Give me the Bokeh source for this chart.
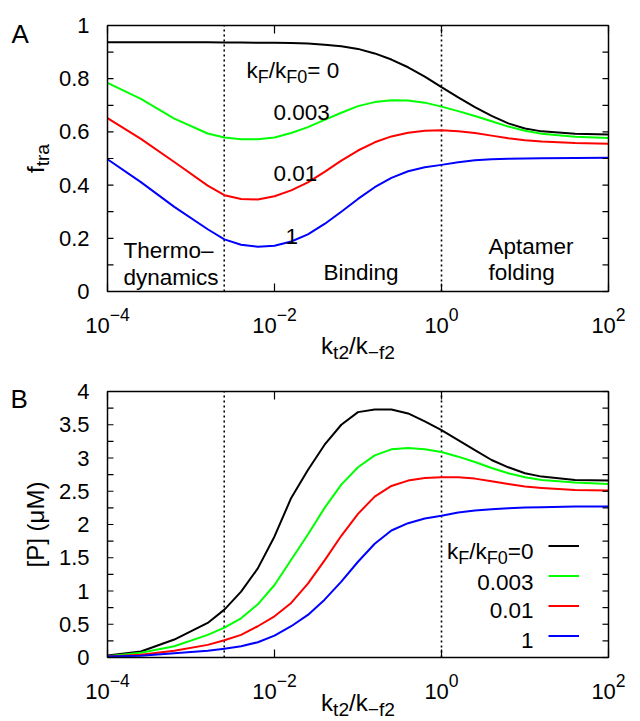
import math
from bokeh.plotting import figure
from bokeh.models import Range1d, Label, Legend, LegendItem
from bokeh.core.properties import value
from bokeh.embed import file_html
from bokeh.resources import INLINE

# ---------------- data ----------------
log_ratio = [-4.0, -3.6, -3.2, -2.8, -2.6, -2.4, -2.2, -2.0, -1.8, -1.6, -1.4, -1.2, -1.0,
             -0.8, -0.6, -0.4, -0.2, 0.0, 0.2, 0.4, 0.6, 0.8, 1.0, 1.2, 1.6, 2.0]
kt2_over_kmf2 = [10 ** v for v in log_ratio]

series_labels = ["0", "0.003", "0.01", "1"]
series_colors = ["#000000", "#00ff00", "#ff0000", "#0000ff"]

f_tra_0 = [0.937, 0.937, 0.937, 0.937, 0.936, 0.936, 0.935, 0.935, 0.934, 0.932, 0.928, 0.922, 0.912,
           0.895, 0.872, 0.843, 0.808, 0.768, 0.730, 0.693, 0.660, 0.632, 0.613, 0.602, 0.593, 0.590]
f_tra_0003 = [0.784, 0.724, 0.650, 0.594, 0.579, 0.572, 0.572, 0.579, 0.596, 0.618, 0.645, 0.672, 0.697,
              0.712, 0.719, 0.718, 0.710, 0.695, 0.678, 0.660, 0.640, 0.620, 0.604, 0.593, 0.582, 0.577]
f_tra_001 = [0.652, 0.574, 0.487, 0.398, 0.362, 0.348, 0.346, 0.358, 0.380, 0.410, 0.450, 0.492, 0.530,
             0.561, 0.583, 0.597, 0.604, 0.606, 0.602, 0.596, 0.586, 0.576, 0.569, 0.564, 0.558, 0.555]
f_tra_1 = [0.497, 0.411, 0.318, 0.234, 0.196, 0.176, 0.168, 0.172, 0.188, 0.215, 0.254, 0.300, 0.348,
           0.392, 0.427, 0.452, 0.467, 0.476, 0.486, 0.493, 0.497, 0.499, 0.500, 0.501, 0.502, 0.503]

P_0 = [0.03, 0.09, 0.27, 0.52, 0.72, 0.99, 1.34, 1.82, 2.40, 2.82, 3.20, 3.50, 3.69,
       3.73, 3.73, 3.67, 3.55, 3.42, 3.27, 3.12, 2.97, 2.86, 2.77, 2.72, 2.67, 2.66]
P_0003 = [0.02, 0.07, 0.17, 0.34, 0.45, 0.59, 0.80, 1.09, 1.47, 1.85, 2.25, 2.60, 2.86,
          3.04, 3.13, 3.15, 3.13, 3.09, 3.02, 2.94, 2.85, 2.77, 2.71, 2.67, 2.63, 2.61]
P_001 = [0.015, 0.04, 0.10, 0.19, 0.26, 0.34, 0.47, 0.62, 0.82, 1.11, 1.46, 1.83, 2.16,
         2.42, 2.58, 2.66, 2.70, 2.71, 2.71, 2.69, 2.65, 2.61, 2.57, 2.55, 2.52, 2.51]
P_1 = [0.015, 0.025, 0.065, 0.10, 0.13, 0.17, 0.23, 0.33, 0.47, 0.64, 0.87, 1.14, 1.44,
       1.71, 1.91, 2.02, 2.09, 2.13, 2.18, 2.21, 2.23, 2.245, 2.255, 2.26, 2.27, 2.27]

region_bounds = [0.0025, 1.0]
x_ticks = [1e-4, 1e-2, 1e0, 1e2]
x_tick_exponents = ["\u22124", "\u22122", "0", "2"]
fA_range = (0.0, 1.0)
fA_ticks = [0, 0.2, 0.4, 0.6, 0.8, 1.0]
fA_minor = [0.1, 0.3, 0.5, 0.7, 0.9]
PB_range = (0.0, 4.0)
PB_ticks = [0, 0.5, 1, 1.5, 2, 2.5, 3, 3.5, 4]
PB_minor = [0.25, 0.75, 1.25, 1.75, 2.25, 2.75, 3.25, 3.75]

# ---------------- layout geometry (page pixels) ----------------
FONT = "Liberation Sans"
FS = 22          # tick labels
FS_NOTE = 22.5   # in-plot annotations
FS_TITLE = 24    # axis titles
WIDTH, HEIGHT = 640, 721
FRAME_L, FRAME_W, FRAME_H = 107, 501, 266
A_BOTTOM, B_BOTTOM = 291, 657
DEC = math.log10(x_ticks[-1]) - math.log10(x_ticks[0])
LX0 = math.log10(x_ticks[0])


def X(sx):
    return 10 ** (LX0 + (sx - FRAME_L) * DEC / FRAME_W)


def YA(sy):
    return fA_range[1] * (A_BOTTOM - sy) / FRAME_H


def YB(sy):
    return PB_range[1] * (B_BOTTOM - sy) / FRAME_H


p = figure(width=WIDTH, height=HEIGHT, x_axis_type="log",
           x_range=Range1d(X(0), X(WIDTH)), y_range=Range1d(YA(HEIGHT), YA(0)),
           x_axis_location=None, y_axis_location=None,
           output_backend="svg", toolbar_location=None, min_border=0)
p.extra_y_ranges = {"B": Range1d(YB(HEIGHT), YB(0))}
p.grid.visible = False
p.outline_line_color = None
p.background_fill_color = "white"
p.border_fill_color = "white"

W = {"k": .5, "F": .611, "/": .278, "0": .556, "1": .556, "2": .556, "3": .556, "4": .556,
     "=": .584, " ": .278, ".": .278, "t": .278, "f": .278, "\u2212": .584, "r": .333, "a": .556}


def tw(s, size):
    return sum(W.get(c, .556) for c in s) * size


def put(text, x, y, size=FS_NOTE, align="left", x_offset=0, y_offset=0, angle=0,
        baseline="alphabetic", yr="default"):
    p.add_layout(Label(x=x, y=y, text=text, x_offset=x_offset, y_offset=y_offset, angle=angle,
                       y_range_name=yr, text_font=FONT, text_font_size=f"{size:.1f}px",
                       text_color="black", text_align=align, text_baseline=baseline))


def rich(parts, x, y, size=FS_NOTE, anchor="left", x_offset=0, y_offset=0, vertical=False,
         yr="default"):
    small = size * 0.8
    sizes = [size if k == "n" else small for _, k in parts]
    widths = [tw(t, s) for (t, _), s in zip(parts, sizes)]
    total = sum(widths)
    off = {"left": 0, "center": -total / 2, "right": -total}[anchor]
    for (t, k), s, w in zip(parts, sizes, widths):
        shift = {"n": 0, "sub": -0.3 * size, "sup": 0.5 * size}[k]
        if vertical:
            put(t, x, y, s, x_offset=x_offset - shift, y_offset=y_offset + off,
                angle=math.pi / 2, yr=yr)
        else:
            put(t, x, y, s, x_offset=x_offset + off, y_offset=y_offset + shift, yr=yr)
        off += w


def panel(yr, y_lo, y_hi, y_ticks, y_minor, curves, title_drop):
    # dotted region boundaries
    p.segment(x0=region_bounds, y0=[y_lo] * len(region_bounds), x1=region_bounds,
              y1=[y_hi] * len(region_bounds), y_range_name=yr, line_color="black",
              line_width=1.6, line_dash="2 3")
    rends = []
    for ys, c in zip(curves, series_colors):
        rends.append(p.line(kt2_over_kmf2, ys, line_color=c, line_width=2, line_join="round",
                            y_range_name=yr))
    # frame
    p.quad(left=[x_ticks[0]], right=[x_ticks[-1]], bottom=[y_lo], top=[y_hi], y_range_name=yr,
           fill_color=None, line_color="black", line_width=1.5)
    # ticks (inward, on all four sides)
    n = len(x_ticks)
    p.ray(x=x_ticks, y=[y_lo] * n, length=8, angle=math.pi / 2, length_units="screen",
          y_range_name=yr, line_color="black", line_width=1.2)
    p.ray(x=x_ticks, y=[y_hi] * n, length=8, angle=-math.pi / 2, length_units="screen",
          y_range_name=yr, line_color="black", line_width=1.2)
    yy = y_ticks + y_minor
    m = len(yy)
    p.ray(x=[x_ticks[0]] * m, y=yy, length=6, angle=0, length_units="screen",
          y_range_name=yr, line_color="black", line_width=1.2)
    p.ray(x=[x_ticks[-1]] * m, y=yy, length=6, angle=math.pi, length_units="screen",
          y_range_name=yr, line_color="black", line_width=1.2)
    # tick labels
    for t in y_ticks:
        put(f"{t:g}", x_ticks[0], t, FS, align="right", x_offset=-18, baseline="middle", yr=yr)
    for t, e in zip(x_ticks, x_tick_exponents):
        rich([("10", "n"), (e, "sup")], t, y_lo, FS, anchor="center", y_offset=-34, yr=yr)
    # x title
    rich([("k", "n"), ("t2", "sub"), ("/k", "n"), ("\u2212f2", "sub")],
         math.sqrt(x_ticks[0] * x_ticks[-1]), y_lo, FS_TITLE, anchor="center",
         y_offset=-title_drop, yr=yr)
    return rends


# ---------------- panel A ----------------
panel("default", fA_range[0], fA_range[1], fA_ticks, fA_minor,
      [f_tra_0, f_tra_0003, f_tra_001, f_tra_1], 54)
rich([("f", "n"), ("tra", "sub")], x_ticks[0], sum(fA_range) / 2, FS_TITLE, anchor="center",
     x_offset=-72, vertical=True)
put("A", X(11), YA(33), 26)
rich([("k", "n"), ("F", "sub"), ("/k", "n"), ("F0", "sub"), (" = 0", "n")], X(246), YA(70))
put(series_labels[1], X(273), YA(112))
put(series_labels[2], X(273), YA(173))
put(series_labels[3], X(285), YA(236))
put("Thermo\u2013", X(123), YA(250))
put("dynamics", X(123), YA(277))
put("Binding", X(323), YA(272))
put("Aptamer", X(488), YA(246))
put("folding", X(488), YA(272))

# ---------------- panel B ----------------
rends = panel("B", PB_range[0], PB_range[1], PB_ticks, PB_minor, [P_0, P_0003, P_001, P_1], 45)
put("[P] (\u03bcM)", x_ticks[0], sum(PB_range) / 2, FS_TITLE, align="center", x_offset=-72,
    angle=math.pi / 2, yr="B")
put("B", X(10), YB(398), 26, yr="B")

legend = Legend(items=[LegendItem(label=value(""), renderers=[r]) for r in rends],
                location=(548, HEIGHT - 646), glyph_width=31, glyph_height=21, label_height=21,
                label_width=0, spacing=9, padding=0, margin=0, label_standoff=0,
                label_text_font_size="10px", border_line_color=None,
                background_fill_alpha=0)
p.add_layout(legend)
rich([("k", "n"), ("F", "sub"), ("/k", "n"), ("F0", "sub"), ("=0", "n")], X(533), YB(551),
     anchor="right", yr="B")
put(series_labels[1], X(533), YB(582), align="right", yr="B")
put(series_labels[2], X(533), YB(610), align="right", yr="B")
put(series_labels[3], X(533), YB(640), align="right", yr="B")

open("out.html", "w").write(file_html(p, INLINE))
